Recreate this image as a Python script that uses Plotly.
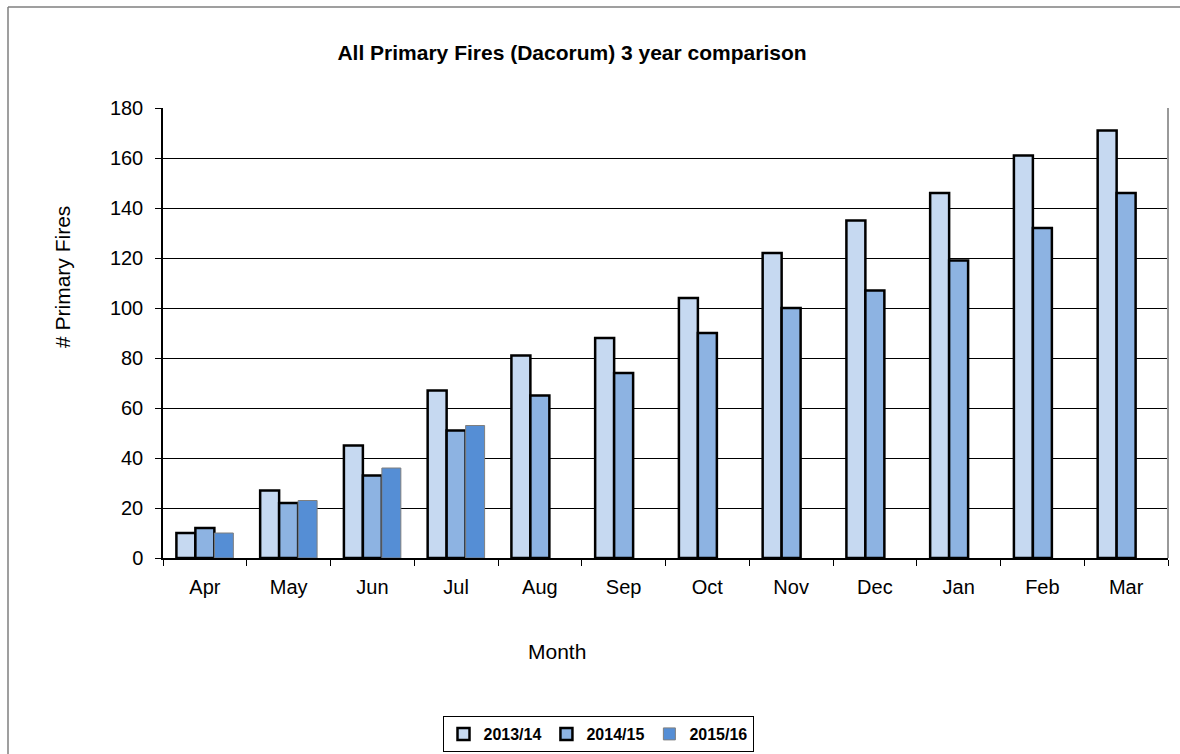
import plotly.graph_objects as go

# Monthly cumulative primary fire counts for Dacorum, three financial years
months = ["Apr", "May", "Jun", "Jul", "Aug", "Sep", "Oct", "Nov", "Dec", "Jan", "Feb", "Mar"]
fy_2013_14 = [10, 27, 45, 67, 81, 88, 104, 122, 135, 146, 161, 171]
fy_2014_15 = [12, 22, 33, 51, 65, 74, 90, 100, 107, 119, 132, 146]
fy_2015_16 = [10, 23, 36, 53, None, None, None, None, None, None, None, None]

y_ticks = [0, 20, 40, 60, 80, 100, 120, 140, 160, 180]

FONT = "Liberation Sans, Arial, sans-serif"

fig = go.Figure()
fig.add_trace(go.Bar(
    name="2013/14", x=months, y=fy_2013_14,
    marker=dict(color="#C6D9F1", line=dict(color="#000000", width=2.5)),
))
fig.add_trace(go.Bar(
    name="2014/15", x=months, y=fy_2014_15,
    marker=dict(color="#8DB3E2", line=dict(color="#000000", width=2.5)),
))
fig.add_trace(go.Bar(
    name="2015/16", x=months, y=fy_2015_16,
    marker=dict(color="#558ED5", line=dict(color="#7F7F7F", width=1)),
))

fig.update_layout(
    width=1180, height=754,
    margin=dict(l=163, r=12, t=108, b=196, autoexpand=False),
    paper_bgcolor="white", plot_bgcolor="white",
    font=dict(family=FONT, size=20, color="#000000"),
    barmode="group", bargap=0.32, bargroupgap=0,
    showlegend=True,
    legend=dict(
        orientation="h", x=(598 - 163) / 1005, y=(558 - 734) / 450,
        xref="paper", yref="paper",
        xanchor="center", yanchor="middle",
        font=dict(family=FONT, size=16, color="#000000", weight="bold"),
        bordercolor="#000000", borderwidth=1, bgcolor="white",
        itemwidth=30, tracegroupgap=0,
    ),
    title=dict(
        text="<b>All Primary Fires (Dacorum) 3 year comparison</b>",
        x=572 / 1180, xref="container", xanchor="center",
        y=1 - 53 / 754, yref="container", yanchor="middle",
        font=dict(family=FONT, size=21, color="#000000"),
    ),
)

fig.update_xaxes(
    type="category", showgrid=False, automargin=False,
    showline=True, linecolor="#000000", linewidth=1.5,
    ticks="outside", tickson="boundaries", ticklen=6, tickcolor="#000000", tickwidth=1,
    tickfont=dict(family=FONT, size=20, color="#000000"),
    ticklabelstandoff=10,
)
fig.update_yaxes(
    range=[0, 180], tickvals=y_ticks, automargin=False,
    showgrid=True, gridcolor="#000000", gridwidth=1.2,
    showline=True, linecolor="#000000", linewidth=1.5,
    ticks="outside", ticklen=6, tickcolor="#000000", tickwidth=1,
    tickfont=dict(family=FONT, size=20, color="#000000"),
    ticklabelstandoff=8,
    zeroline=False,
)

# Axis titles placed as annotations
fig.add_annotation(
    text="Month", xref="paper", yref="paper",
    x=(557 - 163) / 1005, y=(558 - 651) / 450,
    xanchor="center", yanchor="middle", showarrow=False,
    font=dict(family=FONT, size=21, color="#000000"),
)
fig.add_annotation(
    text="# Primary Fires", xref="paper", yref="paper",
    x=(62 - 163) / 1005, y=(558 - 277) / 450, textangle=-90,
    xanchor="center", yanchor="middle", showarrow=False,
    font=dict(family=FONT, size=21, color="#000000"),
)

# Plot-area right border and chart frame
fig.add_shape(type="line", xref="paper", yref="paper", x0=1, x1=1, y0=0, y1=1,
              line=dict(color="#999999", width=2))
fig.add_shape(type="line", xref="paper", yref="paper",
              x0=(8 - 163) / 1005, x1=(8 - 163) / 1005, y0=(558 - 7) / 450, y1=(558 - 760) / 450,
              line=dict(color="#7F7F7F", width=1.5))
fig.add_shape(type="line", xref="paper", yref="paper",
              x0=(8 - 163) / 1005, x1=(1185 - 163) / 1005, y0=(558 - 7) / 450, y1=(558 - 7) / 450,
              line=dict(color="#7F7F7F", width=1.5))

fig.write_html("out.html")
